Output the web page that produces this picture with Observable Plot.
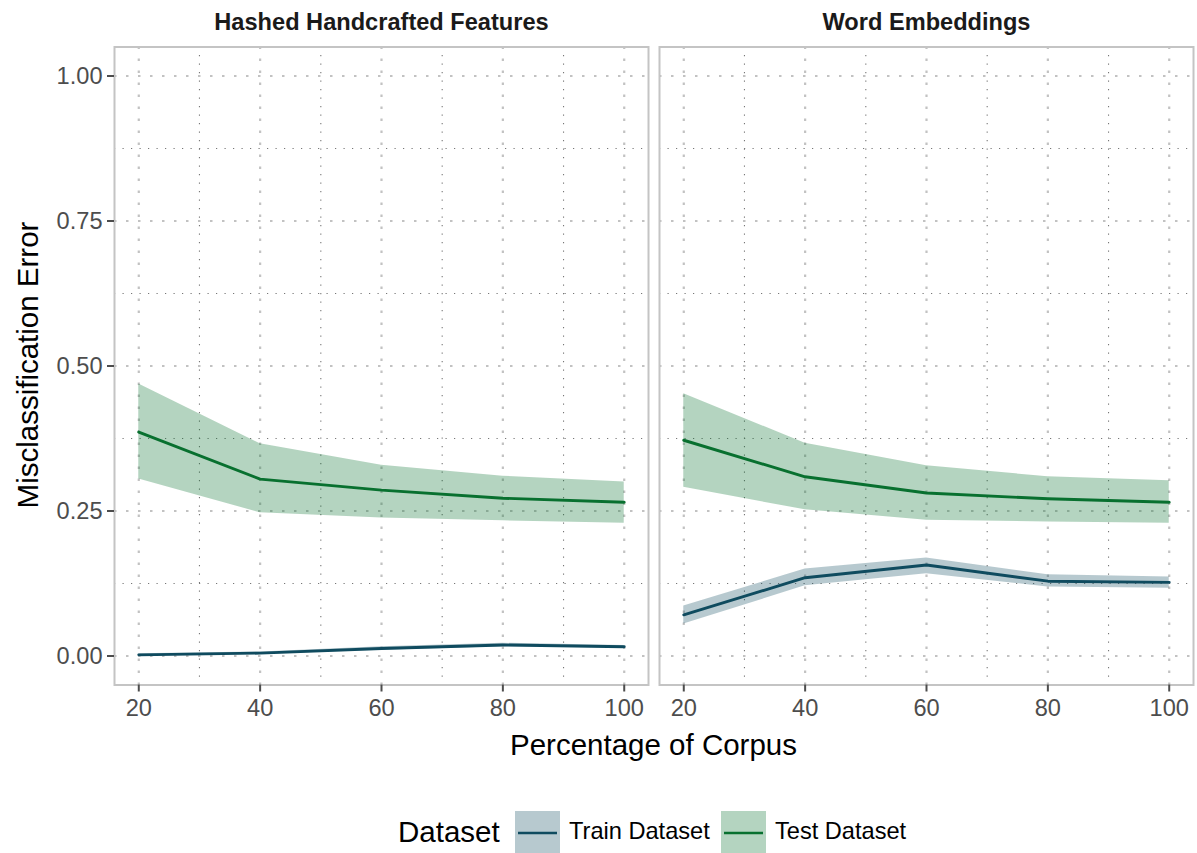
<!DOCTYPE html>
<html>
<head>
<meta charset="utf-8">
<script src="https://cdn.jsdelivr.net/npm/d3@7"></script>
<script src="https://cdn.jsdelivr.net/npm/@observablehq/plot@0.6"></script>
<style>
  body { margin: 0; background: #fff; font-family: "Liberation Sans", Arial, Helvetica, sans-serif; }
  #wrap { position: relative; width: 1197px; }
  .title { position: absolute; font-size: 29.5px; color: #000; white-space: nowrap; line-height: 1; }
  #legend { position: relative; width: 1197px; height: 73px; }
  #legend .lt { position: absolute; font-size: 29.5px; line-height: 1; color: #000; white-space: nowrap; transform: translateY(-50%); }
  #legend .ll { position: absolute; font-size: 23.6px; line-height: 1; color: #000; white-space: nowrap; transform: translateY(-50%); }
  #legend svg { position: absolute; }
  g[aria-label="x-axis tick"], g[aria-label="y-axis tick"] { stroke: #333; stroke-width: 2; }
</style>
</head>
<body>
<div id="wrap"></div>
<div id="legend"></div>
<script>
// ---- data ----
const xs = [20, 40, 60, 80, 100];
const panels = ["Hashed Handcrafted Features", "Word Embeddings"];
const seriesNames = ["Train Dataset", "Test Dataset"];

const hashedTrainMean = [0.002, 0.005, 0.013, 0.019, 0.016];
const hashedTrainLo   = [0.000, 0.003, 0.010, 0.016, 0.014];
const hashedTrainHi   = [0.004, 0.007, 0.016, 0.022, 0.018];
const hashedTestMean  = [0.386, 0.305, 0.286, 0.272, 0.265];
const hashedTestLo    = [0.305, 0.247, 0.238, 0.233, 0.229];
const hashedTestHi    = [0.469, 0.366, 0.329, 0.310, 0.300];

const embTrainMean = [0.071, 0.135, 0.157, 0.129, 0.127];
const embTrainLo   = [0.055, 0.121, 0.142, 0.119, 0.117];
const embTrainHi   = [0.086, 0.150, 0.169, 0.140, 0.136];
const embTestMean  = [0.372, 0.309, 0.281, 0.271, 0.265];
const embTestLo    = [0.291, 0.252, 0.234, 0.231, 0.229];
const embTestHi    = [0.452, 0.367, 0.328, 0.309, 0.302];

const yTicks = [0, 0.25, 0.5, 0.75, 1];
const yMinor = [0.125, 0.375, 0.625, 0.875];
const xTicks = [20, 40, 60, 80, 100];
const xMinor = [30, 50, 70, 90];

const trainColor = "#0f4b5f";
const testColor = "#08702f";

// ---- build table ----
const rows = [];
function add(panel, series, mean, lo, hi) {
  xs.forEach((x, i) => rows.push({panel, series, x, mean: mean[i], lo: lo[i], hi: hi[i]}));
}
add(panels[0], seriesNames[0], hashedTrainMean, hashedTrainLo, hashedTrainHi);
add(panels[0], seriesNames[1], hashedTestMean, hashedTestLo, hashedTestHi);
add(panels[1], seriesNames[0], embTrainMean, embTrainLo, embTrainHi);
add(panels[1], seriesNames[1], embTestMean, embTestLo, embTestHi);
const train = rows.filter(d => d.series === seriesNames[0]);
const test = rows.filter(d => d.series === seriesNames[1]);

const chart = Plot.plot({
  width: 1197,
  height: 780,
  marginLeft: 113,
  marginRight: 3,
  marginTop: 46.5,
  marginBottom: 95.5,
  style: {fontFamily: "'Liberation Sans', Arial, Helvetica, sans-serif", background: "white"},
  fx: {domain: panels, paddingInner: 0.0201, paddingOuter: 0, label: null},
  x: {domain: [16, 104], label: null},
  y: {domain: [-0.05, 1.05], label: null},
  marks: [
    Plot.ruleY(yMinor, {stroke: "#777", strokeDasharray: "1.2,7.3", strokeWidth: 1.1}),
    Plot.ruleX(xMinor, {stroke: "#777", strokeDasharray: "1.2,7.3", strokeWidth: 1.1}),
    Plot.ruleY(yTicks, {stroke: "#c2c2c2", strokeDasharray: "2.5,9.5", strokeWidth: 2.2}),
    Plot.ruleX(xTicks, {stroke: "#c2c2c2", strokeDasharray: "2.5,9.5", strokeWidth: 2.2}),
    Plot.areaY(train, {x: "x", y1: "lo", y2: "hi", fx: "panel", fill: trainColor, fillOpacity: 0.3}),
    Plot.areaY(test, {x: "x", y1: "lo", y2: "hi", fx: "panel", fill: testColor, fillOpacity: 0.3}),
    Plot.lineY(train, {x: "x", y: "mean", fx: "panel", stroke: trainColor, strokeWidth: 2.9}),
    Plot.lineY(test, {x: "x", y: "mean", fx: "panel", stroke: testColor, strokeWidth: 2.9}),
    Plot.frame({stroke: "#c4c4c4", strokeWidth: 2}),
    Plot.axisX({ticks: xTicks, tickSize: 7, tickPadding: 7.5, fontSize: 23.6, color: "#4d4d4d", label: null}),
    Plot.axisY({ticks: yTicks, tickFormat: d3.format(".2f"), tickSize: 7, tickPadding: 5, fontSize: 23.6, color: "#4d4d4d", label: null}),
    Plot.axisFx({anchor: "top", tickSize: 0, tickPadding: 17, fontSize: 23.6, fontWeight: "bold", color: "#1a1a1a", label: null})
  ]
});

const wrap = document.getElementById("wrap");
wrap.appendChild(chart);

const yTitle = document.createElement("div");
yTitle.className = "title";
yTitle.textContent = "Misclassification Error";
yTitle.style.left = "28px";
yTitle.style.top = "365px";
yTitle.style.transform = "translate(-50%, -50%) rotate(-90deg)";
wrap.appendChild(yTitle);

const xTitle = document.createElement("div");
xTitle.className = "title";
xTitle.textContent = "Percentage of Corpus";
xTitle.style.left = "653.5px";
xTitle.style.top = "745px";
xTitle.style.transform = "translate(-50%, -50%)";
wrap.appendChild(xTitle);

// ---- legend ----
const legend = document.getElementById("legend");
const lt = document.createElement("div");
lt.className = "lt";
lt.textContent = "Dataset";
lt.style.left = "398px";
lt.style.top = "52px";
legend.appendChild(lt);

const keys = [
  {name: seriesNames[0], color: trainColor, box: 515, label: 569},
  {name: seriesNames[1], color: testColor, box: 721, label: 775}
];
keys.forEach(k => {
  const svg = d3.create("svg").attr("width", 45).attr("height", 44)
    .style("left", k.box + "px").style("top", "31px");
  svg.append("rect").attr("width", 45).attr("height", 44).attr("fill", k.color).attr("fill-opacity", 0.3);
  svg.append("line").attr("x1", 3).attr("x2", 42).attr("y1", 22).attr("y2", 22)
    .attr("stroke", k.color).attr("stroke-width", 2.7);
  legend.appendChild(svg.node());
  const l = document.createElement("div");
  l.className = "ll";
  l.textContent = k.name;
  l.style.left = k.label + "px";
  l.style.top = "52px";
  legend.appendChild(l);
});
</script>
</body>
</html>
